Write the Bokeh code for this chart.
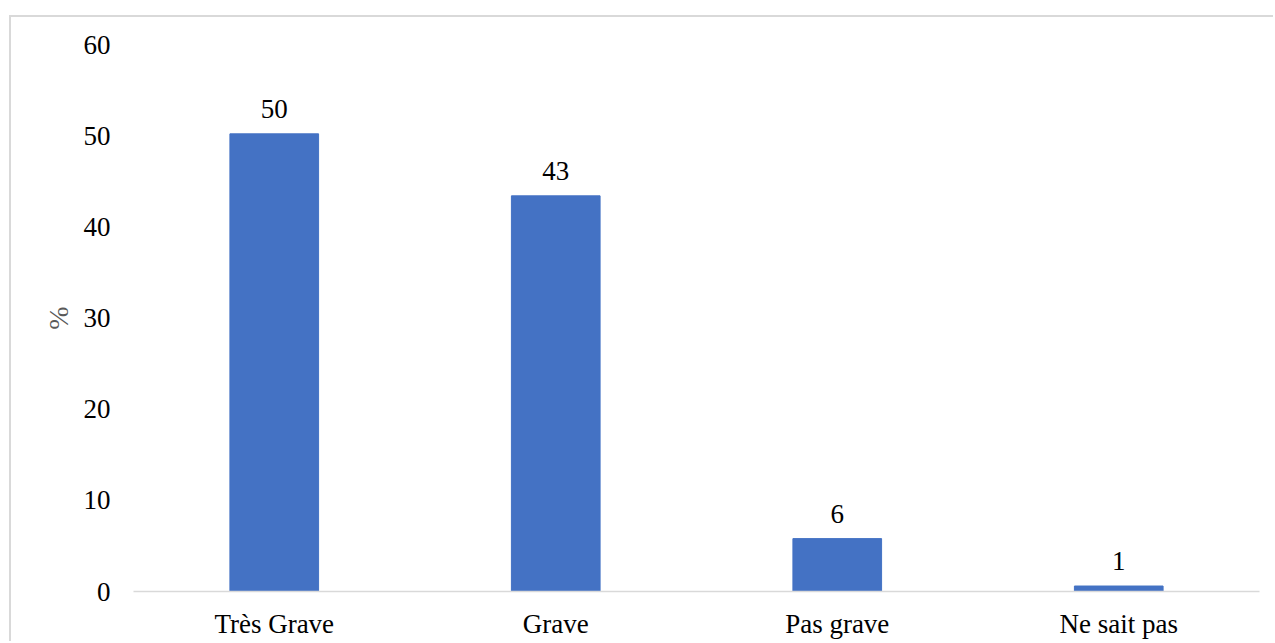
from bokeh.plotting import figure
from bokeh.models import ColumnDataSource, LabelSet, FixedTicker
from bokeh.embed import file_html
from bokeh.resources import INLINE

categories = ["Très Grave", "Grave", "Pas grave", "Ne sait pas"]
values = [50.2, 43.4, 5.8, 0.6]
labels = ["50", "43", "6", "1"]
y_ticks = [0, 10, 20, 30, 40, 50, 60]

src = ColumnDataSource(dict(cat=categories, val=values, lab=labels))

p = figure(x_range=categories, y_range=(0, 60), width=1264, height=626,
           output_backend="svg", toolbar_location=None,
           min_border_left=122, min_border_right=16, min_border_top=27, min_border_bottom=52)
p.styles = {"margin-left": "9px", "margin-top": "15px",
            "border-left": "2px solid #d9d9d9", "border-top": "2px solid #d9d9d9"}
p.x_range.range_padding = 0
p.outline_line_color = None
p.grid.visible = False

p.vbar(x="cat", top="val", width=0.315, source=src, color="#4472C4")

lbl = LabelSet(x="cat", y="val", text="lab", source=src, text_align="center",
               text_baseline="alphabetic", y_offset=16,
               text_font="Liberation Serif", text_font_size="27px", text_color="#000000")
p.add_layout(lbl)

font = "Liberation Serif"
p.xaxis.axis_line_color = "#d9d9d9"
p.xaxis.axis_line_width = 1.5
p.xaxis.major_tick_line_color = None
p.xaxis.minor_tick_line_color = None
p.xaxis.major_label_text_font = font
p.xaxis.major_label_text_font_size = "27px"
p.xaxis.major_label_text_color = "#000000"
p.xaxis.major_label_standoff = 11

p.yaxis.ticker = FixedTicker(ticks=y_ticks)
p.yaxis.axis_line_color = None
p.yaxis.major_tick_line_color = None
p.yaxis.minor_tick_line_color = None
p.yaxis.major_label_text_font = font
p.yaxis.major_label_text_font_size = "27px"
p.yaxis.major_label_text_color = "#000000"
p.yaxis.major_label_standoff = 17
p.yaxis.axis_label = "%"
p.yaxis.axis_label_text_font = font
p.yaxis.axis_label_text_font_size = "28px"
p.yaxis.axis_label_text_font_style = "normal"
p.yaxis.axis_label_text_color = "#595959"
p.yaxis.axis_label_standoff = 7

open("out.html", "w").write(file_html(p, INLINE))
